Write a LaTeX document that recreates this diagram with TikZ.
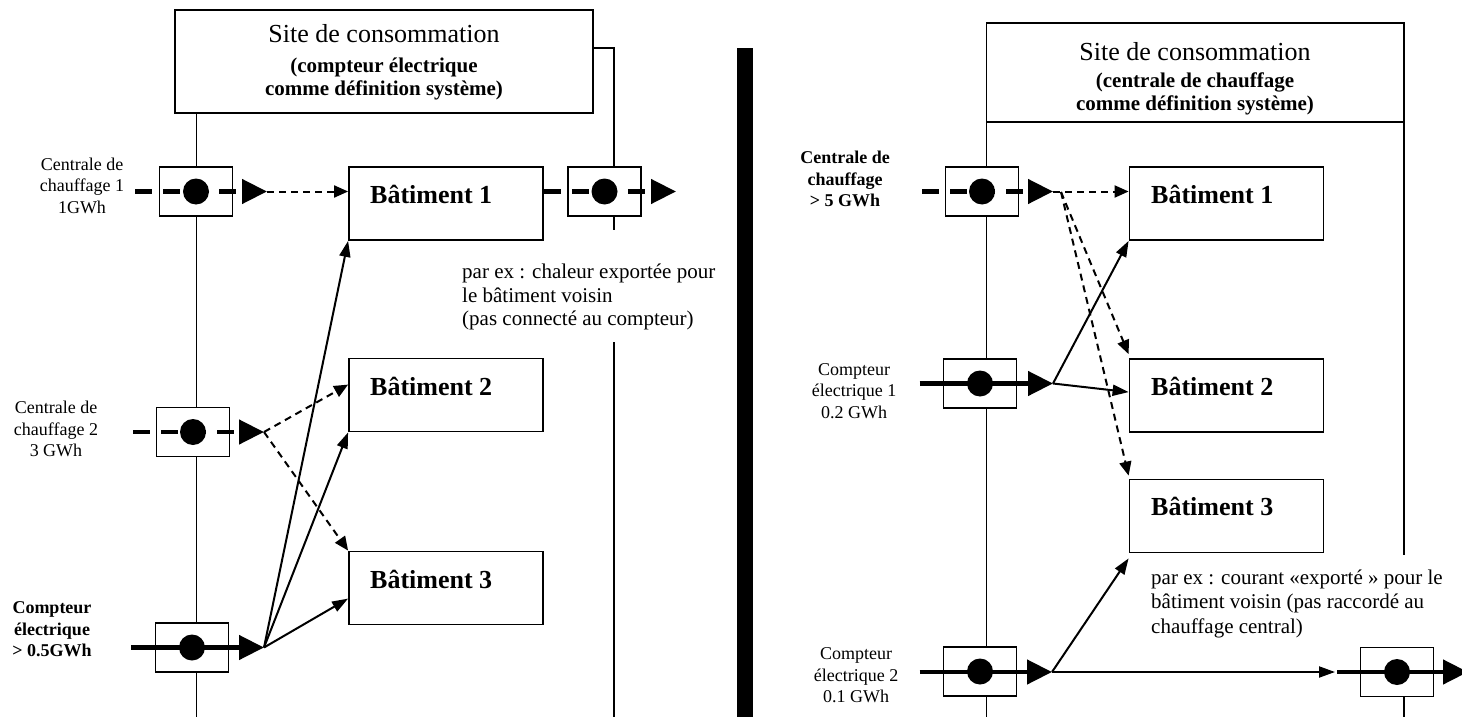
\documentclass[tikz,border=0pt]{standalone}
\usepackage{fontspec}
\setmainfont{Liberation Serif}
\usetikzlibrary{arrows.meta,calc}
\begin{document}
\begin{tikzpicture}[x=1pt,y=-1pt,
  sitebox/.style={draw,line width=1.8pt,inner sep=0pt},
  meter/.style={draw,line width=1.8pt,fill=white,minimum width=73pt,minimum height=49pt,inner sep=0pt},
  dot/.style={circle,fill=black,minimum size=26pt,inner sep=0pt},
  bat/.style={draw,line width=1.8pt,minimum width=194pt,minimum height=73pt,inner sep=0pt},
  battext/.style={anchor=base west,inner sep=0pt,font=\fontsize{26}{28}\selectfont\bfseries},
  wall/.style={line width=1.6pt},
  heat/.style={line width=4.5pt,dash pattern=on 17pt off 11pt,-{Triangle[length=25pt,width=24pt]}},
  elec/.style={line width=4.5pt,-{Triangle[length=25pt,width=24pt]}},
  flowd/.style={line width=2pt,dash pattern=on 7pt off 5pt,-{Triangle[length=14pt,width=12pt]}},
  flow/.style={line width=2pt,-{Triangle[length=16pt,width=11pt]}},
  side/.style={align=center,inner sep=0pt,font=\fontsize{18}{21.5}\selectfont},
  sideb/.style={align=center,inner sep=0pt,font=\fontsize{18}{21.5}\selectfont\bfseries},
  title/.style={anchor=base,inner sep=0pt,font=\fontsize{26}{28}\selectfont},
  subtitle/.style={align=center,inner sep=0pt,font=\fontsize{21}{23}\selectfont\bfseries},
  note/.style={align=left,anchor=west,inner sep=0pt}
]
\useasboundingbox (0,0) rectangle (1462,717);

% ---------------- left panel ----------------
\node[sitebox,minimum width=418pt,minimum height=103pt] (siteL) at (384,61.5) {};
\node[title] (siteLt) at (384,43) {Site de consommation};
\node[subtitle] (siteLs) at (384,78.5) {(compteur électrique\\comme définition système)};

\draw[wall] (196.5,113) -- (196.5,717);
\draw[wall] (593,48) -- (614,48) -- (614,230);
\draw[wall] (614,342) -- (614,717);

\node[meter] (mL1) at (196,191.5) {};
\node[meter] (mL2) at (193,432) {};
\node[meter] (mL3) at (192,647.5) {};
\node[meter] (mLR) at (604.5,191.5) {};

\node[bat] (bL1) at (446,203.5) {};
\node[bat] (bL2) at (446,395) {};
\node[bat] (bL3) at (446,588) {};
\node[battext] (bL1t) at (370,203.5) {Bâtiment 1};
\node[battext] (bL2t) at (370,395.5) {Bâtiment 2};
\node[battext] (bL3t) at (370,588.5) {Bâtiment 3};

\coordinate (sL1) at (135,191.5); \coordinate (tL1) at (267,191.5);
\coordinate (sL2) at (133,432);   \coordinate (tL2) at (264,432);
\coordinate (sL3) at (131,647.5); \coordinate (tL3) at (264,647.5);
\coordinate (tLR) at (676,191.5);

\draw[heat] (sL1) -- (tL1);
\draw[heat] (sL2) -- (tL2);
\draw[elec] (sL3) -- (tL3);
\draw[heat] (bL1.east |- mLR) -- (tLR);

\node[dot] (dL1) at (mL1) {};
\node[dot] (dL2) at (mL2) {};
\node[dot] (dL3) at (mL3) {};
\node[dot] (dLR) at (mLR) {};

\draw[flowd] (tL1) -- (tL1 -| bL1.west);
\draw[flowd] (tL2) -- ($(bL2.north west)+(0,27)$);
\draw[flowd] (tL2) -- (bL3.north west);
\draw[flow] (tL3) -- (bL1.south west);
\draw[flow] (tL3) -- (bL2.south west);
\draw[flow] (tL3) -- ($(bL3.north west)+(0,48)$);

\node[side] (lL1) at (82,185.5) {Centrale de\\chauffage 1\\1GWh};
\node[side] (lL2) at (56,429) {Centrale de\\chauffage 2\\3 GWh};
\node[sideb] (lL3) at (52,629.5) {Compteur\\électrique\\> 0.5GWh};

\node[note,font=\fontsize{21}{23.5}\selectfont] (nL) at (462,297)
  {par ex : chaleur exportée pour\\le bâtiment voisin\\(pas connecté au compteur)};

% ---------------- separator ----------------
\fill (737,48) rectangle (753,717);

% ---------------- right panel ----------------
\node[sitebox,minimum width=417.5pt,minimum height=99pt] (siteR) at (1195.25,72.5) {};
\node[title] (siteRt) at (1195,60) {Site de consommation};
\node[subtitle] (siteRs) at (1195,93.5) {(centrale de chauffage\\comme définition système)};

\draw[wall] (986.5,122) -- (986.5,717);
\draw[wall] (1404,122) -- (1404,555);
\draw[wall] (1404,690) -- (1404,717);

\node[meter] (mR1) at (982,191.5) {};
\node[meter] (mR2) at (980,383.5) {};
\node[meter] (mR3) at (980,671.5) {};
\node[meter] (mRR) at (1397,672) {};

\node[bat] (bR1) at (1226.5,203.5) {};
\node[bat] (bR2) at (1226.5,395.5) {};
\node[bat] (bR3) at (1226.5,516) {};
\node[battext] (bR1t) at (1151,203.5) {Bâtiment 1};
\node[battext] (bR2t) at (1151,395.5) {Bâtiment 2};
\node[battext] (bR3t) at (1151,515.5) {Bâtiment 3};

\coordinate (sR1) at (922,191.5);   \coordinate (tR1) at (1053,191.5);
\coordinate (sR2) at (919.5,383.5); \coordinate (tR2) at (1053,383.5);
\coordinate (sR3) at (919.5,672);   \coordinate (tR3) at (1052,672);
\coordinate (sRR) at (1337,672);    \coordinate (tRR) at (1468,672);
\coordinate (fork) at (1061,192);
\coordinate (eIn) at (1335,672);

\draw[heat] (sR1) -- (tR1);
\draw[elec] (sR2) -- (tR2);
\draw[elec] (sR3) -- (tR3);
\draw[elec] (sRR) -- (tRR);

\node[dot] (dR1) at (mR1) {};
\node[dot] (dR2) at (mR2) {};
\node[dot] (dR3) at (mR3) {};
\node[dot] (dRR) at (mRR) {};

\draw[flowd] (tR1) -- (tR1 -| bR1.west);
\draw[flowd] (fork) -- ($(bR2.north west)+(0,-4)$);
\draw[flowd] (fork) -- ($(bR3.north west)+(0,-3)$);
\draw[flow] (tR2) -- (bR1.south west);
\draw[flow] (tR2) -- ($(bR2.north west)+(0,34)$);
\draw[flow] (tR3) -- ($(bR3.south west)+(0,5)$);
\draw[flow] (tR3) -- (eIn);

\node[sideb] (lR1) at (845,179) {Centrale de\\chauffage\\> 5 GWh};
\node[side] (lR2) at (854,391) {Compteur\\électrique 1\\0.2 GWh};
\node[side] (lR3) at (856,675.5) {Compteur\\électrique 2\\0.1 GWh};

\node[note,font=\fontsize{21}{24.5}\selectfont] (nR) at (1151,603.5)
  {par ex : courant «exporté » pour le\\bâtiment voisin (pas raccordé au\\chauffage central)};
\end{tikzpicture}
\end{document}
